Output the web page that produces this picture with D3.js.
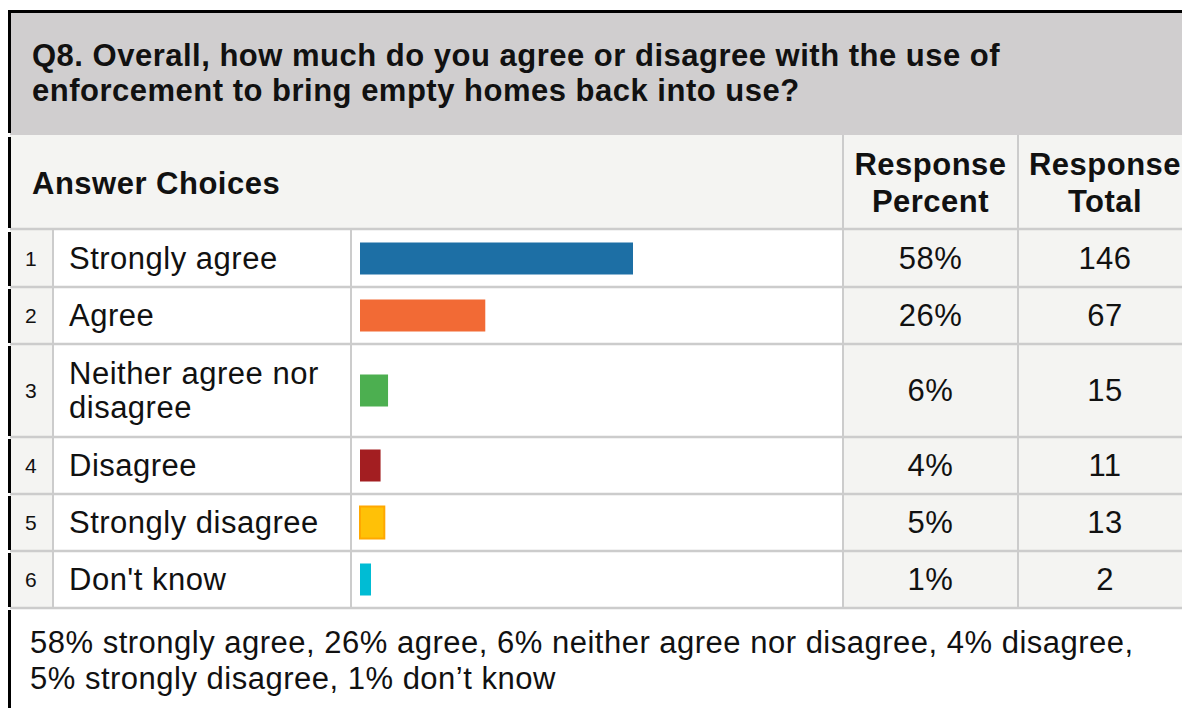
<!DOCTYPE html>
<html lang="en">
<head>
<meta charset="utf-8">
<title>Q8 enforcement</title>
<script src="https://d3js.org/d3.v7.min.js"></script>
<style>
  body { margin: 0; background: #fff; }
  svg { display: block; font-family: Arial, "Liberation Sans", Helvetica, sans-serif; }
  svg text { letter-spacing: 0.5px; }
</style>
</head>
<body>
<script>
var width = 1182,
    height = 708;

// data
var titleLines = ["Q8. Overall, how much do you agree or disagree with the use of",
                  "enforcement to bring empty homes back into use?"];
var rowNums = [1, 2, 3, 4, 5, 6];
var choices = [["Strongly agree"], ["Agree"], ["Neither agree nor", "disagree"],
               ["Disagree"], ["Strongly disagree"], ["Don't know"]];
var percents = ["58%", "26%", "6%", "4%", "5%", "1%"];
var totals = [146, 67, 15, 11, 13, 2];
var barColors = ["#1d6fa5", "#f26a35", "#4caf50", "#a31e21", "#ffc107", "#00bcd4"];
var barStrokes = [null, null, null, null, "#ffa800", null];
var noteLines = ["58% strongly agree, 26% agree, 6% neither agree nor disagree, 4% disagree,",
                 "5% strongly disagree, 1% don\u2019t know"];

// column edges
var colNum = 10, colChoice = 53, colBar = 351, colPct = 843, colTot = 1018, colEnd = 1192;
var grid = "#cccccc", shade = "#f4f4f2", fs = "31px";

var svg = d3.select("body").append("svg")
    .attr("width", width)
    .attr("height", height);

// title band
svg.append("rect").attr("x", 10).attr("y", 12).attr("width", width).attr("height", 123)
    .style("fill", "#d0cecf");
svg.append("text").attr("x", 32).attr("y", 66)
    .style("font-size", fs).style("font-weight", "bold").style("fill", "#111")
  .selectAll("tspan").data(titleLines).enter().append("tspan")
    .attr("x", 32).attr("dy", function(d, i) { return i ? 35 : 0; })
    .text(function(d) { return d; });

// header row
var headTop = 135, headBot = 229;
svg.append("rect").attr("x", 10).attr("y", headTop).attr("width", width).attr("height", headBot - headTop)
    .style("fill", shade);
svg.append("text").attr("x", 32).attr("y", 194)
    .style("font-size", fs).style("font-weight", "bold").style("fill", "#111")
    .text("Answer Choices");
[[colPct, colTot, ["Response", "Percent"]], [colTot, colEnd, ["Response", "Total"]]].forEach(function(h) {
  svg.append("line").attr("x1", h[0]).attr("x2", h[0]).attr("y1", headTop).attr("y2", headBot)
      .style("stroke", grid).style("stroke-width", 2);
  svg.append("text").attr("text-anchor", "middle").attr("y", 175)
      .style("font-size", fs).style("font-weight", "bold").style("fill", "#111")
    .selectAll("tspan").data(h[2]).enter().append("tspan")
      .attr("x", (h[0] + h[1]) / 2).attr("dy", function(d, i) { return i ? 37 : 0; })
      .text(function(d) { return d; });
});

// rows: height depends on wrapped label lines
var rows = [], y0 = headBot + 1;
choices.forEach(function(c, i) {
  var h = 21 + 36 * c.length;
  rows.push({ i: i, top: y0, h: h, mid: y0 + h / 2 });
  y0 += h;
});
var tableBot = y0;

var x = d3.scaleLinear().domain([0, d3.max(totals)]).range([0, 273]);

var row = svg.selectAll(".row").data(rows).enter().append("g").attr("class", "row");

row.append("rect").attr("x", colNum).attr("y", function(d) { return d.top; })
    .attr("width", colChoice - colNum).attr("height", function(d) { return d.h; }).style("fill", shade);
row.append("rect").attr("x", colChoice).attr("y", function(d) { return d.top; })
    .attr("width", colPct - colChoice).attr("height", function(d) { return d.h; }).style("fill", "#fff");
row.append("rect").attr("x", colPct).attr("y", function(d) { return d.top; })
    .attr("width", colEnd - colPct).attr("height", function(d) { return d.h; }).style("fill", shade);

row.append("text").attr("x", 31).attr("y", function(d) { return d.mid + 7; })
    .attr("text-anchor", "middle").style("font-size", "21px").style("fill", "#111")
    .text(function(d) { return rowNums[d.i]; });

row.append("text").attr("y", function(d) { return d.mid + 10.5 - 17 * (choices[d.i].length - 1); })
    .style("font-size", fs).style("fill", "#111")
  .selectAll("tspan").data(function(d) { return choices[d.i]; }).enter().append("tspan")
    .attr("x", 69).attr("dy", function(d, i) { return i ? 34 : 0; })
    .text(function(d) { return d; });

row.append("rect")
    .attr("x", 360)
    .attr("y", function(d) { return d.mid - 16; })
    .attr("height", 32)
    .attr("width", function(d) { return Math.max(x(totals[d.i]), 11); })
    .style("fill", function(d) { return barColors[d.i]; })
    .style("stroke", function(d) { return barStrokes[d.i] || "none"; })
    .style("stroke-width", 2);

row.append("text").attr("x", (colPct + colTot) / 2).attr("y", function(d) { return d.mid + 10.5; })
    .attr("text-anchor", "middle").style("font-size", fs).style("fill", "#111")
    .text(function(d) { return percents[d.i]; });
row.append("text").attr("x", (colTot + colEnd) / 2).attr("y", function(d) { return d.mid + 10.5; })
    .attr("text-anchor", "middle").style("font-size", fs).style("fill", "#111")
    .text(function(d) { return totals[d.i]; });

// grid lines
var hLines = [headBot].concat(rows.map(function(d) { return d.top + d.h; }));
svg.selectAll(".hl").data(hLines).enter().append("line").attr("class", "hl")
    .attr("x1", 10).attr("x2", width).attr("y1", function(d) { return d; }).attr("y2", function(d) { return d; })
    .style("stroke", grid).style("stroke-width", 2.5);
[colChoice, colBar, colPct, colTot].forEach(function(cx) {
  svg.append("line").attr("x1", cx).attr("x2", cx).attr("y1", headBot).attr("y2", tableBot)
      .style("stroke", grid).style("stroke-width", 2);
});

// note
svg.append("text").attr("y", 653).style("font-size", fs).style("fill", "#111")
  .selectAll("tspan").data(noteLines).enter().append("tspan")
    .attr("x", 30).attr("dy", function(d, i) { return i ? 36 : 0; })
    .text(function(d) { return d; });

// black outer border: top line, left edge broken at each row
svg.append("line").attr("x1", 8).attr("x2", width).attr("y1", 11.5).attr("y2", 11.5)
    .style("stroke", "#000").style("stroke-width", 3);
var segs = [[10, 133], [137, headBot - 1]].concat(rows.map(function(d) { return [d.top + 2, d.top + d.h - 1]; }))
    .concat([[tableBot + 2, height]]);
svg.selectAll(".lb").data(segs).enter().append("line").attr("class", "lb")
    .attr("x1", 9.5).attr("x2", 9.5)
    .attr("y1", function(d) { return d[0]; }).attr("y2", function(d) { return d[1]; })
    .style("stroke", "#000").style("stroke-width", 3);
</script>
</body>
</html>
